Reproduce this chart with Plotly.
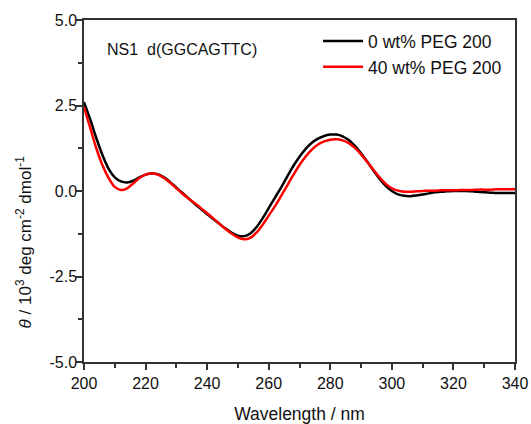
import plotly.graph_objects as go

wavelength = list(range(200, 342, 2))

theta_0 = [2.6, 2.1, 1.55, 1.05, 0.65, 0.4, 0.28, 0.25, 0.3, 0.4, 0.48, 0.51, 0.49, 0.4,
           0.26, 0.1, -0.06, -0.22, -0.38, -0.53, -0.68, -0.82, -0.96, -1.1, -1.22, -1.31,
           -1.32, -1.24, -1.06, -0.8, -0.5, -0.2, 0.1, 0.42, 0.73, 1.0, 1.23, 1.41, 1.53,
           1.61, 1.65, 1.65, 1.6, 1.49, 1.32, 1.1, 0.86, 0.6, 0.36, 0.15, 0.0, -0.1, -0.14,
           -0.15, -0.13, -0.1, -0.07, -0.04, -0.02, -0.01, 0.0, 0.0, 0.0, -0.01, -0.02,
           -0.04, -0.05, -0.06, -0.06, -0.06, -0.06]

theta_40 = [2.45, 1.85, 1.25, 0.75, 0.38, 0.12, 0.03, 0.08, 0.22, 0.38, 0.48, 0.51, 0.48,
            0.38, 0.24, 0.08, -0.08, -0.22, -0.36, -0.5, -0.65, -0.8, -0.96, -1.11, -1.25,
            -1.36, -1.41, -1.37, -1.22, -0.99, -0.72, -0.45, -0.15, 0.16, 0.47, 0.76, 1.01,
            1.21, 1.36, 1.45, 1.5, 1.51, 1.48, 1.4, 1.26, 1.07, 0.85, 0.62, 0.4, 0.21, 0.08,
            0.01, -0.02, -0.02, -0.01, 0.0, 0.01, 0.01, 0.02, 0.02, 0.02, 0.03, 0.03, 0.03,
            0.04, 0.04, 0.04, 0.05, 0.05, 0.05, 0.05]

series_names = ["0 wt% PEG 200", "40 wt% PEG 200"]
series_colors = ["#000000", "#ff0000"]

x_ticks = [200, 220, 240, 260, 280, 300, 320, 340]
y_ticks = [-5.0, -2.5, 0.0, 2.5, 5.0]
y_tick_text = ["-5.0", "-2.5", "0.0", "2.5", "5.0"]

font_family = "Liberation Sans, Arial, sans-serif"

fig = go.Figure()
for name, ys, col in zip(series_names, [theta_0, theta_40], series_colors):
    fig.add_trace(go.Scatter(x=wavelength, y=ys, mode="lines", name=name,
                             line=dict(color=col, width=2.5, shape="spline", smoothing=1.0)))

axis_common = dict(showline=True, linecolor="#333333", linewidth=1.5, mirror=True,
                   ticks="outside", ticklen=6, tickwidth=1.5, tickcolor="#333333",
                   showgrid=False, zeroline=False, automargin=False,
                   tickfont=dict(family=font_family, size=16, color="#111111"))

fig.update_xaxes(range=[200, 340], tickvals=x_ticks,
                 minor=dict(dtick=10, ticks="outside", ticklen=4, tickwidth=1.5, tickcolor="#333333"),
                 title=dict(text="Wavelength / nm", font=dict(family=font_family, size=17.5, color="#111111"), standoff=18),
                 **axis_common)
fig.update_yaxes(range=[-5, 5], tickvals=y_ticks, ticktext=y_tick_text,
                 minor=dict(dtick=1.25, tick0=0, ticks="outside", ticklen=4, tickwidth=1.5, tickcolor="#333333"),
                 ticklabelstandoff=-4,
                 **axis_common)

# y-axis title (placed lower than the axis centre, as in the reference)
fig.add_annotation(x=-0.139, y=0.35, xref="paper", yref="paper", xanchor="center", yanchor="middle",
                   textangle=-90, showarrow=False,
                   text="<i>θ</i> / 10<sup>3</sup> deg cm<sup>-2</sup> dmol<sup>-1</sup>",
                   font=dict(family=font_family, size=17, color="#111111"))

fig.add_annotation(x=0.049, y=0.915, xref="paper", yref="paper", xanchor="left", yanchor="middle",
                   text="NS1  d(GGCAGTTC)", showarrow=False,
                   font=dict(family=font_family, size=16, color="#111111"))

fig.update_layout(width=531, height=424,
                  margin=dict(l=84, r=16, t=20, b=62),
                  paper_bgcolor="white", plot_bgcolor="white",
                  legend=dict(x=0.543, y=0.991, xanchor="left", yanchor="top",
                              bgcolor="rgba(0,0,0,0)", tracegroupgap=0,
                              font=dict(family=font_family, size=17.5, color="#111111"),
                              itemwidth=40),
                  showlegend=True)

fig.write_html("out.html")
